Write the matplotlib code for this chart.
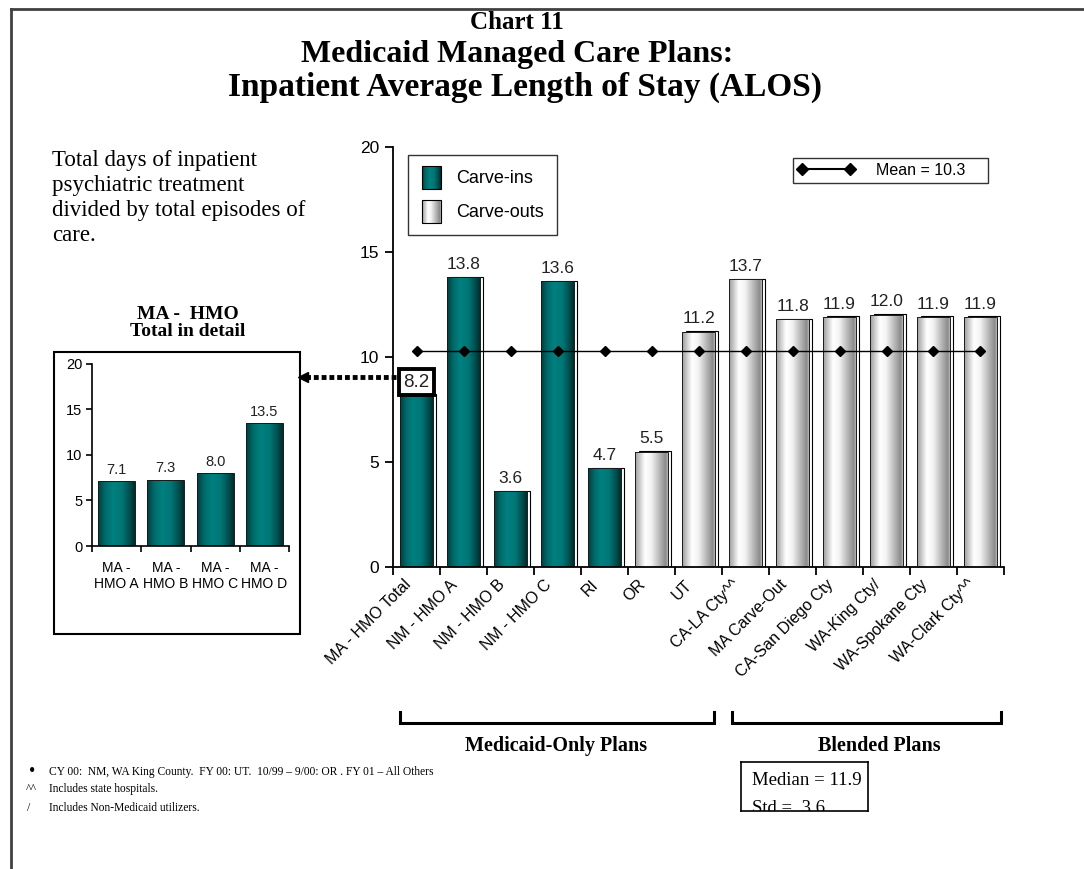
import numpy as np
import matplotlib
matplotlib.use("Agg")
import matplotlib.pyplot as plt
from matplotlib.patches import Rectangle
from matplotlib.colors import LinearSegmentedColormap
from matplotlib.lines import Line2D
from matplotlib.legend_handler import HandlerBase
from matplotlib.transforms import ScaledTranslation

# ---------------- data ----------------
categories = ["MA - HMO Total", "NM - HMO A", "NM - HMO B", "NM - HMO C", "RI", "OR", "UT",
              "CA-LA Cty^^", "MA Carve-Out", "CA-San Diego Cty", "WA-King Cty/",
              "WA-Spokane Cty", "WA-Clark Cty^^"]
alos = [8.2, 13.8, 3.6, 13.6, 4.7, 5.5, 11.2, 13.7, 11.8, 11.9, 12.0, 11.9, 11.9]
plan_type = ["in", "in", "in", "in", "in", "out", "out", "out", "out", "out", "out", "out", "out"]
mean_value = 10.3
median_value = 11.9
std_value = 3.6

detail_categories = ["MA -\nHMO A", "MA -\nHMO B", "MA -\nHMO C", "MA -\nHMO D"]
detail_alos = [7.1, 7.3, 8.0, 13.5]

y_ticks = [0, 5, 10, 15, 20]

# ---------------- styles ----------------
SERIF = "Liberation Serif"
SANS = "Liberation Sans"
plt.rcParams["font.family"] = SANS

teal_cmap = LinearSegmentedColormap.from_list(
    "teal", [(0, "#003c3c"), (0.18, "#006868"), (0.4, "#008080"),
             (0.65, "#007676"), (0.88, "#004a4a"), (1, "#002c2c")])
gray_cmap = LinearSegmentedColormap.from_list(
    "gray", [(0, "#9c9c9c"), (0.3, "#ffffff"), (0.5, "#f2f2f2"),
             (0.82, "#a6a6a6"), (0.94, "#8a8a8a"), (1, "#b8b8b8")])
grad = np.linspace(0, 1, 128).reshape(1, -1)

W, H = 1084, 869
fig = plt.figure(figsize=(W / 100, H / 100), dpi=100)


def fx(px):
    return px / W


def fy(py):
    return 1 - py / H


def grad_bar(ax, xc, h, w, cmap, shadow=True):
    x0 = xc - w / 2
    if shadow:
        ax.add_patch(Rectangle((x0 + 0.07, 0), w, h + 0.03, fc="white", ec="black",
                               lw=0.8, zorder=1))
    rect = Rectangle((x0, 0), w, h, fc="none", ec="#1a1a1a", lw=0.7, zorder=3)
    ax.add_patch(rect)
    im = ax.imshow(grad, cmap=cmap, extent=[x0, x0 + w, 0, h], aspect="auto",
                   interpolation="bilinear", zorder=2)
    im.set_clip_path(rect)


class GradHandler(HandlerBase):
    def __init__(self, cmap):
        super().__init__()
        self.cmap = cmap

    def create_artists(self, legend, orig_handle, xdescent, ydescent, width, height,
                       fontsize, trans):
        n = 20
        arts = []
        s = min(width, height * 1.1)
        x0 = -xdescent + (width - s) / 2
        y0 = -ydescent - 2
        hh = height + 4
        for i in range(n):
            r = Rectangle((x0 + s * i / n, y0), s / n + 0.2, hh,
                          fc=self.cmap((i + 0.5) / n), ec="none", transform=trans)
            arts.append(r)
        arts.append(Rectangle((x0, y0), s, hh, fc="none", ec="black", lw=0.8,
                              transform=trans))
        return arts


# ---------------- page frame ----------------
fig.add_artist(Line2D([fx(11), fx(11)], [fy(9), 0], color="#404040", lw=2))
fig.add_artist(Line2D([fx(11), 1], [fy(9), fy(9)], color="#404040", lw=2))

# ---------------- titles ----------------
fig.text(fx(517), fy(29), "Chart 11", ha="center", va="baseline", fontsize=18,
         fontweight="bold", family=SERIF)
fig.text(fx(517), fy(62), "Medicaid Managed Care Plans:", ha="center", va="baseline",
         fontsize=23, fontweight="bold", family=SERIF)
fig.text(fx(525), fy(96), "Inpatient Average Length of Stay (ALOS)", ha="center",
         va="baseline", fontsize=24, fontweight="bold", family=SERIF)

fig.text(fx(52), fy(150), "Total days of inpatient\npsychiatric treatment\n"
         "divided by total episodes of\ncare.", ha="left", va="top", fontsize=16.5,
         family=SERIF, linespacing=1.25)

# ---------------- main axes ----------------
ax = fig.add_axes([fx(393), fy(567), fx(1004) - fx(393), fy(147) - fy(567)])
n = len(categories)
xs = np.arange(n)
bw = 0.69
for i in range(n):
    grad_bar(ax, xs[i], alos[i], bw, teal_cmap if plan_type[i] == "in" else gray_cmap)

for i in range(n):
    if i == 0:
        ax.annotate(f"{alos[i]:.1f}", (xs[i], alos[i]), xytext=(0, 3),
                    textcoords="offset points", ha="center", va="bottom", fontsize=13.5,
                    color="#222222", zorder=6,
                    bbox=dict(boxstyle="square,pad=0.25", fc="white", ec="black", lw=2.8))
    else:
        ax.annotate(f"{alos[i]:.1f}", (xs[i], alos[i]), xytext=(0, 4),
                    textcoords="offset points", ha="center", va="bottom", fontsize=12.5,
                    color="#222222", zorder=6)

ax.plot(xs, [mean_value] * n, color="black", lw=1, marker="D", ms=5, zorder=5)

ax.set_xlim(-0.5, n - 0.5)
ax.set_ylim(0, 20)
ax.set_yticks(y_ticks)
ax.set_yticklabels([str(v) for v in y_ticks], fontsize=12.5)
ax.set_xticks(xs)
ax.set_xticklabels(categories, rotation=45, ha="right", va="center",
                   rotation_mode="anchor", fontsize=11.5)
ax.set_xticks(np.arange(n + 1) - 0.5, minor=True)
ax.tick_params(axis="x", which="major", length=0, pad=11)
ax.tick_params(axis="x", which="minor", length=6, width=1.3, direction="out")
ax.tick_params(axis="y", length=6, width=1.3, direction="out", pad=4)
for lbl in ax.get_xticklabels():
    lbl.set_transform(lbl.get_transform() + ScaledTranslation(-6 / 72, 0, fig.dpi_scale_trans))
for side in ["top", "right"]:
    ax.spines[side].set_visible(False)
ax.spines["left"].set_linewidth(1.3)
ax.spines["bottom"].set_linewidth(1.3)

h_in = Rectangle((0, 0), 1, 1)
h_out = Rectangle((0, 0), 1, 1)
leg1 = ax.legend([h_in, h_out], ["Carve-ins", "Carve-outs"],
                 handler_map={h_in: GradHandler(teal_cmap), h_out: GradHandler(gray_cmap)},
                 loc="upper left", bbox_to_anchor=(0.0245, 0.981), borderaxespad=0,
                 fontsize=13, frameon=True, fancybox=False, edgecolor="black",
                 handlelength=1.1, handleheight=1.1, labelspacing=0.85, borderpad=0.75,
                 handletextpad=0.8)
leg1.get_frame().set_linewidth(1.0)
ax.add_artist(leg1)

mean_handle = Line2D([0], [0], color="black", lw=1.5, marker="D", ms=6)
leg2 = ax.legend([mean_handle], [f"Mean = {mean_value}    "], loc="upper right",
                 bbox_to_anchor=(0.974, 0.974), borderaxespad=0, fontsize=11.5,
                 numpoints=2, handlelength=3.6, frameon=True, fancybox=False,
                 edgecolor="black", borderpad=0.3, handletextpad=1.3)
leg2.get_frame().set_linewidth(1.0)

# ---------------- inset ----------------
fig.add_artist(Rectangle((fx(54), fy(634)), fx(300) - fx(54), fy(352) - fy(634),
                         transform=fig.transFigure, fc="none", ec="black", lw=1.5))
fig.text(fx(188), fy(323), "MA -  HMO\nTotal in detail", ha="center", va="center",
         fontsize=14, fontweight="bold", family=SERIF, linespacing=1.0)
ax2 = fig.add_axes([fx(92), fy(546), fx(289) - fx(92), fy(364) - fy(546)])
m = len(detail_categories)
xd = np.arange(m)
for i in range(m):
    grad_bar(ax2, xd[i], detail_alos[i], 0.75, teal_cmap, shadow=False)
    ax2.annotate(f"{detail_alos[i]:.1f}", (xd[i], detail_alos[i]), xytext=(0, 3),
                 textcoords="offset points", ha="center", va="bottom", fontsize=10.5,
                 color="#222222")
ax2.set_xlim(-0.5, m - 0.5)
ax2.set_ylim(0, 20)
ax2.set_yticks(y_ticks)
ax2.set_yticklabels([str(v) for v in y_ticks], fontsize=10.5)
ax2.set_xticks(xd)
ax2.set_xticklabels(detail_categories, fontsize=10, linespacing=1.2)
ax2.set_xticks(np.arange(m + 1) - 0.5, minor=True)
ax2.tick_params(axis="x", which="major", length=0, pad=11)
ax2.tick_params(axis="x", which="minor", length=4, width=1.2, direction="out")
ax2.tick_params(axis="y", length=4, width=1.2, direction="out", pad=3)
for side in ["top", "right"]:
    ax2.spines[side].set_visible(False)
ax2.spines["left"].set_linewidth(1.2)
ax2.spines["bottom"].set_linewidth(1.2)
ax2.patch.set_alpha(0)

# dotted arrow from 8.2 box to inset
fig.add_artist(Line2D([fx(396), fx(308)], [fy(377), fy(377)], color="black", lw=3.5,
                      linestyle=(0, (1, 0.6))))
fig.add_artist(Line2D([fx(303)], [fy(377)], color="black", marker="<", ms=7, lw=0))

# ---------------- brackets ----------------
for x0, x1 in [(400, 714), (732, 1001)]:
    fig.add_artist(Line2D([fx(x0), fx(x0), fx(x1), fx(x1)],
                          [fy(712), fy(723), fy(723), fy(712)], color="black", lw=2.2,
                          solid_joinstyle="miter"))
fig.text(fx(556), fy(746), "Medicaid-Only Plans", ha="center", va="center", fontsize=14.5,
         fontweight="bold", family=SERIF)
fig.text(fx(879), fy(746), "Blended Plans", ha="center", va="center", fontsize=14.5,
         fontweight="bold", family=SERIF)

# median / std box
axb = fig.add_axes([fx(741), fy(811), fx(868) - fx(741), fy(762) - fy(811)])
axb.set_xticks([])
axb.set_yticks([])
for s in axb.spines.values():
    s.set_linewidth(1.2)
axb.text(0.09, 0.63, f"Median = {median_value}", transform=axb.transAxes, ha="left",
         va="center", fontsize=13.5, family=SERIF, clip_on=True)
axb.text(0.09, 0.06, f"Std =  {std_value}", transform=axb.transAxes, ha="left",
         va="center", fontsize=13.5, family=SERIF, clip_on=True)

# footnotes
fig.text(fx(29), fy(771), "\u2022", ha="left", va="center", fontsize=13, family=SERIF)
fig.text(fx(49), fy(772), "CY 00:  NM, WA King County.  FY 00: UT.  10/99 \u2013 9/00: OR . "
         "FY 01 \u2013 All Others", ha="left", va="center", fontsize=8.3, family=SERIF)
fig.text(fx(26), fy(789), "^^", ha="left", va="center", fontsize=8.5, family=SERIF)
fig.text(fx(49), fy(789), "Includes state hospitals.", ha="left", va="center",
         fontsize=8.3, family=SERIF)
fig.text(fx(27), fy(808), "/", ha="left", va="center", fontsize=8.5, family=SERIF)
fig.text(fx(49), fy(808), "Includes Non-Medicaid utilizers.", ha="left", va="center",
         fontsize=8.3, family=SERIF)

fig.savefig("out.png", dpi=100, facecolor="white")
